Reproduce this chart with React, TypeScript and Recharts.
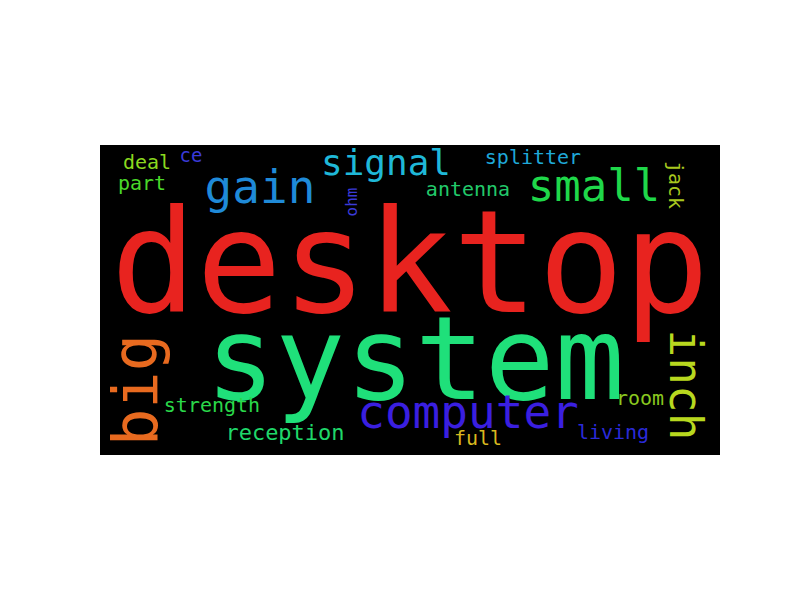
import React from 'react';
import { ScatterChart, Scatter, XAxis, YAxis, ReferenceArea } from 'recharts';

// word cloud: each word placed at (x, y) in a 800x600 frame
const words = ['desktop', 'system', 'computer', 'big', 'inch', 'gain', 'signal', 'small', 'splitter', 'antenna', 'jack', 'ohm', 'ce', 'deal', 'part', 'strength', 'reception', 'room', 'full', 'living'];
const xs = [410, 415, 468, 135, 686, 260, 386, 594, 533, 468, 676, 351, 191, 147, 142, 212, 285, 640, 478, 613];
const ys = [262, 358, 412, 390, 385, 187, 162, 185, 157, 189, 185, 202, 155, 162, 183, 405, 432, 398, 438, 432];
const sizes = [142, 116, 46, 62, 46, 46, 36, 44, 20, 20, 20, 16, 19, 20, 20, 20, 22, 20, 20, 20];
const rotations = [0, 0, 0, -90, 90, 0, 0, 0, 0, 0, 90, -90, 0, 0, 0, 0, 0, 0, 0, 0];
const colors = ['#e8231f', '#1fe07a', '#3a1fe0', '#e86a1f', '#b8d81f', '#1f8ad8', '#1fb8d8', '#1fd84a', '#1fa8d8', '#22c86a', '#a8c81f', '#3a3ad8', '#3a3ad8', '#8ad81f', '#4ad82a', '#2ad84a', '#1fd86a', '#8ac81f', '#d8b81f', '#2a2ad8'];

const data = words.map((w, i) => ({ word: w, x: xs[i], y: ys[i], size: sizes[i], rot: rotations[i], color: colors[i] }));

const Word = (props: any) => {
  const { cx, cy, payload } = props;
  return (
    <text
      x={cx}
      y={cy}
      textAnchor="middle"
      dominantBaseline="central"
      fontFamily="DejaVu Sans Mono"
      fontSize={payload.size}
      fill={payload.color}
      transform={`rotate(${payload.rot} ${cx} ${cy})`}
    >
      {payload.word}
    </text>
  );
};

export default function App() {
  return (
    <div style={{ position: 'fixed', left: 0, top: 0, width: 800, height: 600, background: '#fff' }}>
      <ScatterChart width={800} height={600} margin={{ top: 0, right: 0, bottom: 0, left: 0 }}>
        <XAxis type="number" dataKey="x" domain={[0, 800]} hide />
        <YAxis type="number" dataKey="y" domain={[0, 600]} reversed hide />
        <ReferenceArea x1={100} x2={720} y1={145} y2={455} fill="#000" fillOpacity={1} stroke="none" />
        <Scatter data={data} shape={<Word />} isAnimationActive={false} />
      </ScatterChart>
    </div>
  );
}
